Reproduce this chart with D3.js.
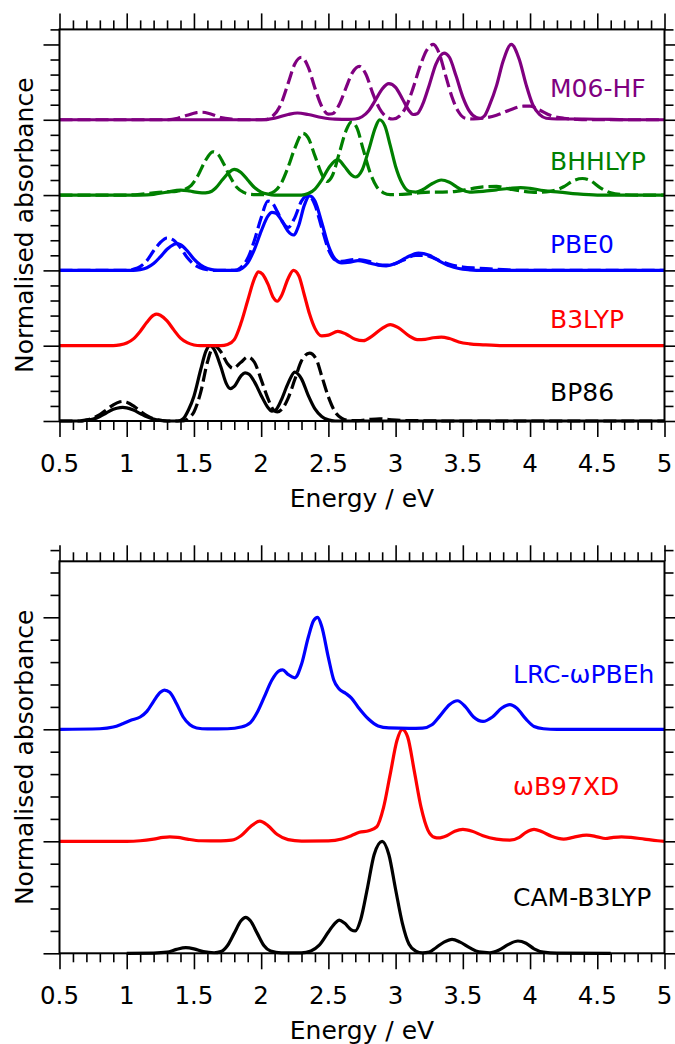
<!DOCTYPE html>
<html>
<head>
<meta charset="utf-8">
<script src="https://cdn.jsdelivr.net/npm/d3@7"></script>
<style>
  body { margin: 0; background: #fff; }
  svg { display: block; font-family: "DejaVu Sans", sans-serif; }
</style>
</head>
<body>
<svg id="chart" width="675" height="1044"></svg>
<script>
// x ticks
const xMajor = [0.5, 1, 1.5, 2, 2.5, 3, 3.5, 4, 4.5, 5];
const xTickLabels = ["0.5", "1", "1.5", "2", "2.5", "3", "3.5", "4", "4.5", "5"];

// spectra: [energy / eV, normalised absorbance]
const bp86Solid = [[0.5,0],[0.65,0],[0.7,0.01],[0.75,0.025],[0.8,0.06],[0.85,0.11],[0.9,0.155],[0.95,0.178],[0.97,0.18],[1.0,0.175],[1.05,0.145],[1.1,0.1],[1.15,0.055],[1.2,0.025],[1.25,0.008],[1.3,0],[1.38,0],[1.42,0.03],[1.46,0.15],[1.5,0.33],[1.55,0.68],[1.59,0.93],[1.62,1.0],[1.65,0.95],[1.7,0.72],[1.74,0.5],[1.77,0.43],[1.8,0.46],[1.85,0.6],[1.88,0.64],[1.91,0.62],[1.95,0.52],[2.0,0.34],[2.05,0.18],[2.08,0.13],[2.11,0.15],[2.15,0.28],[2.2,0.5],[2.25,0.65],[2.3,0.56],[2.35,0.34],[2.4,0.16],[2.45,0.06],[2.5,0.015],[2.55,0],[5,0]];
const bp86Dashed = [[0.5,0],[0.65,0],[0.7,0.015],[0.75,0.04],[0.8,0.085],[0.85,0.15],[0.9,0.215],[0.95,0.255],[0.97,0.26],[1.0,0.25],[1.05,0.2],[1.1,0.13],[1.15,0.07],[1.2,0.03],[1.25,0.01],[1.3,0],[1.42,0],[1.46,0.04],[1.5,0.12],[1.55,0.38],[1.6,0.78],[1.65,1.0],[1.7,0.92],[1.75,0.76],[1.79,0.7],[1.85,0.78],[1.9,0.85],[1.95,0.78],[2.0,0.55],[2.05,0.3],[2.09,0.15],[2.12,0.12],[2.16,0.17],[2.2,0.3],[2.25,0.55],[2.3,0.8],[2.36,0.9],[2.41,0.82],[2.45,0.6],[2.5,0.32],[2.55,0.12],[2.6,0.035],[2.65,0.008],[2.72,0.005],[2.8,0.02],[2.88,0.03],[2.95,0.02],[3.05,0.008],[3.2,0.003],[3.4,0],[5,0]];
const b3lypSolid = [[0.5,0],[0.9,0],[0.95,0.01],[1.0,0.035],[1.05,0.09],[1.1,0.19],[1.15,0.31],[1.2,0.405],[1.22,0.42],[1.25,0.405],[1.3,0.33],[1.35,0.21],[1.4,0.1],[1.45,0.04],[1.5,0.01],[1.55,0],[1.7,0],[1.75,0.015],[1.8,0.08],[1.85,0.3],[1.9,0.6],[1.95,0.89],[1.98,0.98],[2.01,0.95],[2.05,0.82],[2.09,0.64],[2.12,0.59],[2.15,0.66],[2.2,0.89],[2.24,1.0],[2.28,0.93],[2.32,0.68],[2.36,0.42],[2.4,0.23],[2.45,0.13],[2.5,0.14],[2.57,0.19],[2.63,0.155],[2.7,0.085],[2.76,0.066],[2.82,0.12],[2.9,0.23],[2.96,0.28],[3.02,0.24],[3.1,0.13],[3.16,0.08],[3.22,0.085],[3.28,0.105],[3.34,0.115],[3.4,0.095],[3.47,0.05],[3.55,0.025],[3.65,0.012],[3.8,0],[5,0]];
const pbe0Solid = [[0.5,0],[1.05,0],[1.1,0.01],[1.15,0.035],[1.2,0.09],[1.25,0.18],[1.3,0.28],[1.35,0.345],[1.37,0.355],[1.4,0.34],[1.45,0.26],[1.5,0.15],[1.55,0.07],[1.6,0.025],[1.65,0.005],[1.7,0],[1.82,0],[1.86,0.03],[1.9,0.1],[1.95,0.28],[2.0,0.52],[2.05,0.72],[2.08,0.77],[2.11,0.76],[2.15,0.67],[2.2,0.52],[2.24,0.47],[2.28,0.6],[2.32,0.86],[2.36,0.99],[2.4,0.92],[2.45,0.64],[2.5,0.33],[2.55,0.15],[2.6,0.1],[2.66,0.11],[2.72,0.13],[2.8,0.1],[2.87,0.07],[2.93,0.06],[3.0,0.09],[3.08,0.17],[3.17,0.23],[3.25,0.2],[3.32,0.13],[3.4,0.06],[3.47,0.025],[3.55,0.008],[3.65,0],[5,0]];
const pbe0Dashed = [[0.5,0],[1.0,0],[1.05,0.015],[1.1,0.05],[1.15,0.13],[1.2,0.26],[1.25,0.37],[1.3,0.43],[1.35,0.4],[1.4,0.3],[1.45,0.17],[1.5,0.08],[1.55,0.03],[1.6,0.008],[1.65,0],[1.8,0],[1.85,0.04],[1.9,0.16],[1.95,0.4],[2.0,0.7],[2.05,0.92],[2.08,0.9],[2.12,0.78],[2.16,0.64],[2.2,0.57],[2.25,0.7],[2.3,0.92],[2.35,1.0],[2.4,0.87],[2.45,0.57],[2.5,0.28],[2.55,0.14],[2.6,0.12],[2.7,0.145],[2.8,0.12],[2.9,0.07],[2.95,0.07],[3.05,0.13],[3.15,0.2],[3.22,0.2],[3.3,0.15],[3.4,0.08],[3.5,0.045],[3.6,0.03],[3.7,0.02],[3.8,0.01],[3.9,0],[5,0]];
const bhhlypSolid = [[0.5,0],[1.1,0],[1.2,0.01],[1.3,0.04],[1.4,0.065],[1.45,0.06],[1.5,0.042],[1.56,0.028],[1.61,0.035],[1.66,0.09],[1.71,0.2],[1.76,0.3],[1.8,0.34],[1.85,0.3],[1.9,0.2],[1.95,0.1],[2.0,0.04],[2.05,0.012],[2.1,0],[2.3,0],[2.35,0.02],[2.4,0.08],[2.45,0.2],[2.51,0.38],[2.57,0.47],[2.62,0.38],[2.67,0.27],[2.7,0.24],[2.75,0.33],[2.8,0.6],[2.85,0.9],[2.88,1.0],[2.92,0.92],[2.96,0.66],[3.0,0.38],[3.05,0.15],[3.1,0.05],[3.15,0.04],[3.2,0.07],[3.27,0.15],[3.34,0.2],[3.4,0.17],[3.47,0.09],[3.55,0.04],[3.65,0.05],[3.75,0.07],[3.85,0.09],[3.93,0.1],[4.0,0.09],[4.1,0.06],[4.22,0.04],[4.35,0.015],[4.5,0],[5,0]];
const bhhlypDashed = [[0.5,0],[1.0,0],[1.1,0.01],[1.2,0.03],[1.3,0.045],[1.37,0.05],[1.43,0.075],[1.48,0.13],[1.53,0.26],[1.58,0.44],[1.64,0.575],[1.68,0.54],[1.72,0.42],[1.77,0.24],[1.82,0.1],[1.87,0.035],[1.92,0.01],[2.0,0.005],[2.05,0.015],[2.1,0.05],[2.15,0.16],[2.2,0.37],[2.25,0.62],[2.31,0.82],[2.35,0.76],[2.4,0.52],[2.45,0.28],[2.49,0.18],[2.53,0.26],[2.58,0.55],[2.63,0.85],[2.67,0.97],[2.71,0.9],[2.76,0.6],[2.81,0.3],[2.86,0.11],[2.91,0.03],[2.96,0.005],[3.05,0.01],[3.15,0.025],[3.25,0.04],[3.35,0.04],[3.45,0.05],[3.55,0.08],[3.65,0.11],[3.75,0.115],[3.85,0.08],[3.95,0.05],[4.05,0.035],[4.15,0.05],[4.25,0.11],[4.32,0.19],[4.39,0.22],[4.45,0.19],[4.52,0.1],[4.6,0.03],[4.7,0.005],[4.8,0],[5,0]];
const m06hfSolid = [[0.5,0],[2.0,0],[2.1,0.02],[2.2,0.07],[2.27,0.09],[2.35,0.07],[2.45,0.03],[2.55,0.008],[2.65,0.005],[2.7,0.01],[2.75,0.04],[2.8,0.12],[2.85,0.26],[2.9,0.41],[2.95,0.48],[3.0,0.43],[3.05,0.28],[3.1,0.12],[3.13,0.07],[3.16,0.08],[3.2,0.2],[3.25,0.46],[3.3,0.74],[3.36,0.886],[3.4,0.83],[3.45,0.58],[3.5,0.3],[3.55,0.11],[3.6,0.03],[3.63,0.02],[3.66,0.05],[3.7,0.2],[3.75,0.45],[3.8,0.78],[3.86,1.0],[3.92,0.8],[3.97,0.47],[4.02,0.2],[4.07,0.07],[4.12,0.02],[4.2,0.01],[4.4,0.01],[4.6,0.005],[4.8,0],[5,0]];
const m06hfDashed = [[0.5,0],[1.3,0],[1.38,0.02],[1.45,0.06],[1.52,0.095],[1.56,0.1],[1.62,0.08],[1.7,0.03],[1.78,0.008],[1.85,0],[2.03,0],[2.08,0.04],[2.14,0.18],[2.2,0.48],[2.25,0.74],[2.3,0.83],[2.35,0.7],[2.4,0.42],[2.45,0.18],[2.5,0.075],[2.53,0.08],[2.58,0.2],[2.63,0.42],[2.68,0.63],[2.73,0.71],[2.78,0.6],[2.83,0.35],[2.88,0.15],[2.93,0.04],[2.98,0.01],[3.03,0.05],[3.08,0.18],[3.13,0.42],[3.18,0.7],[3.23,0.92],[3.28,1.0],[3.32,0.9],[3.37,0.6],[3.42,0.3],[3.47,0.1],[3.52,0.02],[3.58,0.01],[3.65,0.02],[3.75,0.06],[3.85,0.13],[3.95,0.18],[4.0,0.18],[4.07,0.13],[4.15,0.06],[4.25,0.02],[4.35,0.005],[4.45,0],[5,0]];

const lrcSolid = [[0.5,0],[0.8,0.005],[0.9,0.02],[0.97,0.05],[1.03,0.08],[1.1,0.11],[1.15,0.16],[1.2,0.25],[1.25,0.33],[1.28,0.35],[1.32,0.33],[1.37,0.23],[1.42,0.11],[1.47,0.04],[1.52,0.012],[1.6,0.003],[1.75,0.005],[1.85,0.02],[1.92,0.06],[1.97,0.15],[2.02,0.28],[2.08,0.44],[2.13,0.52],[2.16,0.53],[2.2,0.49],[2.25,0.46],[2.3,0.58],[2.35,0.82],[2.39,0.97],[2.42,1.0],[2.45,0.92],[2.5,0.64],[2.54,0.44],[2.58,0.36],[2.63,0.32],[2.67,0.28],[2.72,0.2],[2.8,0.09],[2.87,0.03],[2.95,0.012],[3.1,0.008],[3.2,0.01],[3.27,0.04],[3.33,0.12],[3.4,0.22],[3.46,0.255],[3.52,0.2],[3.58,0.11],[3.65,0.07],[3.72,0.11],[3.79,0.19],[3.85,0.22],[3.9,0.19],[3.97,0.09],[4.03,0.025],[4.1,0.005],[4.2,0],[5,0]];
const wb97xdSolid = [[0.5,0],[1.0,0],[1.1,0.005],[1.2,0.02],[1.27,0.035],[1.32,0.04],[1.38,0.035],[1.45,0.02],[1.55,0.005],[1.7,0.003],[1.78,0.01],[1.85,0.05],[1.92,0.13],[1.99,0.18],[2.05,0.14],[2.12,0.06],[2.2,0.015],[2.3,0.002],[2.5,0.003],[2.6,0.02],[2.67,0.05],[2.73,0.08],[2.8,0.095],[2.86,0.13],[2.91,0.3],[2.96,0.6],[3.01,0.9],[3.05,1.0],[3.09,0.93],[3.14,0.62],[3.19,0.3],[3.24,0.1],[3.29,0.035],[3.32,0.03],[3.38,0.05],[3.44,0.09],[3.5,0.107],[3.57,0.09],[3.65,0.05],[3.75,0.02],[3.85,0.01],[3.92,0.035],[3.97,0.08],[4.03,0.107],[4.09,0.085],[4.16,0.045],[4.25,0.02],[4.32,0.035],[4.42,0.056],[4.5,0.04],[4.56,0.025],[4.62,0.035],[4.68,0.04],[4.75,0.035],[4.85,0.02],[4.95,0.005],[5,0]];
const camb3lypSolid = [[1.0,0],[1.2,0.002],[1.3,0.01],[1.37,0.035],[1.44,0.05],[1.5,0.04],[1.57,0.015],[1.65,0.005],[1.7,0.015],[1.75,0.07],[1.8,0.18],[1.85,0.29],[1.885,0.32],[1.92,0.29],[1.97,0.18],[2.02,0.07],[2.07,0.02],[2.15,0.003],[2.3,0.003],[2.37,0.02],[2.43,0.07],[2.5,0.19],[2.55,0.27],[2.58,0.297],[2.62,0.27],[2.67,0.21],[2.7,0.2],[2.74,0.3],[2.79,0.58],[2.84,0.88],[2.9,1.0],[2.95,0.88],[3.0,0.57],[3.05,0.27],[3.1,0.08],[3.15,0.02],[3.2,0.003],[3.25,0.01],[3.3,0.05],[3.36,0.1],[3.42,0.125],[3.48,0.1],[3.55,0.05],[3.62,0.012],[3.7,0.005],[3.77,0.03],[3.84,0.08],[3.91,0.11],[3.97,0.09],[4.03,0.04],[4.1,0.01],[4.2,0.002],[4.6,0]];

const topNames = ["BP86", "B3LYP", "PBE0", "BHHLYP", "M06-HF"];
const topOffsets = [0, 1, 2, 3, 4];
const topSolid = [bp86Solid, b3lypSolid, pbe0Solid, bhhlypSolid, m06hfSolid];
const topDashed = [bp86Dashed, null, pbe0Dashed, bhhlypDashed, m06hfDashed];

const bottomNames = ["CAM-B3LYP", "ωB97XD", "LRC-ωPBEh"];
const bottomOffsets = [0, 1, 2];
const bottomSolid = [camb3lypSolid, wb97xdSolid, lrcSolid];
const bottomDashed = [null, null, null];

// layout
const svg = d3.select("#chart");
const colorsTop = ["#000000", "#ff0000", "#0000ff", "#008000", "#800080"];
const colorsBottom = ["#000000", "#ff0000", "#0000ff"];
const x = d3.scaleLinear().domain([0.5, 5]).range([59.5, 664.5]);
const xMinor = d3.range(5, 51).map(d => d / 10).filter(d => !xMajor.includes(d));

function drawPanel(p) {
    const y = d3.scaleLinear().domain([0, p.yMax]).range([p.bottom, p.top]);
    const g = svg.append("g");
    const yMajor = d3.range(0, Math.floor(p.yMax) + 1);
    const yMinor = d3.range(0, Math.round(p.yMax * 5) + 1).map(d => d / 5).filter(d => !yMajor.includes(d));

    const ticks = (axis, vals, size, tr) => {
        const a = g.append("g").attr("transform", tr)
            .call(axis.tickValues(vals).tickSize(size).tickFormat(""));
        a.select(".domain").remove();
        a.selectAll("line").attr("stroke", "#000").attr("stroke-width", 1.6);
        return a;
    };
    ticks(d3.axisBottom(x), xMinor, 9, `translate(0,${p.bottom})`);
    ticks(d3.axisBottom(x), xMajor, 16, `translate(0,${p.bottom})`);
    ticks(d3.axisTop(x), xMinor, 9, `translate(0,${p.top})`);
    ticks(d3.axisTop(x), xMajor, 16, `translate(0,${p.top})`);
    ticks(d3.axisLeft(y), yMinor, 9, `translate(59.5,0)`);
    ticks(d3.axisLeft(y), yMajor, 16, `translate(59.5,0)`);
    ticks(d3.axisRight(y), yMinor, 9, `translate(664.5,0)`);
    ticks(d3.axisRight(y), yMajor, 16, `translate(664.5,0)`);

    g.append("g").selectAll("text").data(xMajor).join("text")
        .attr("x", d => x(d)).attr("y", p.bottom + 50.5)
        .attr("text-anchor", "middle").attr("font-size", 24.5)
        .text((d, i) => xTickLabels[i]);

    g.append("text").attr("x", 362).attr("y", p.bottom + 85.5)
        .attr("text-anchor", "middle").attr("font-size", 25)
        .text("Energy / eV");
    g.append("text")
        .attr("transform", `translate(33,${(p.top + p.bottom) / 2}) rotate(-90)`)
        .attr("text-anchor", "middle").attr("font-size", 25)
        .text("Normalised absorbance");

    p.names.forEach((name, i) => {
        const off = p.offsets[i];
        const line = d3.line()
            .x(d => x(d[0])).y(d => y(d[1] + off))
            .curve(d3.curveMonotoneX);
        if (p.dashed[i]) {
            g.append("path").attr("d", line(p.dashed[i]))
                .attr("fill", "none").attr("stroke", p.colors[i])
                .attr("stroke-width", 3.2).attr("stroke-dasharray", "13,5");
        }
        g.append("path").attr("d", line(p.solid[i]))
            .attr("fill", "none").attr("stroke", p.colors[i])
            .attr("stroke-width", 3.2).attr("stroke-linejoin", "round");
        g.append("text").attr("x", p.labelX).attr("y", y(p.labelY[i]))
            .attr("font-size", 25).attr("fill", p.colors[i]).text(name);
    });

    g.append("rect").attr("x", 59.5).attr("y", p.top)
        .attr("width", 605).attr("height", p.bottom - p.top)
        .attr("fill", "none").attr("stroke", "#000").attr("stroke-width", 2);
}

drawPanel({
    top: 29.4, bottom: 421, yMax: 5.2,
    names: topNames, offsets: topOffsets, solid: topSolid, dashed: topDashed,
    colors: colorsTop, labelX: 550, labelY: [0.26, 1.24, 2.23, 3.33, 4.3]
});
drawPanel({
    top: 561.3, bottom: 953.3, yMax: 3.5,
    names: bottomNames, offsets: bottomOffsets, solid: bottomSolid, dashed: bottomDashed,
    colors: colorsBottom, labelX: 513, labelY: [0.42, 1.41, 2.41]
});
</script>
</body>
</html>
